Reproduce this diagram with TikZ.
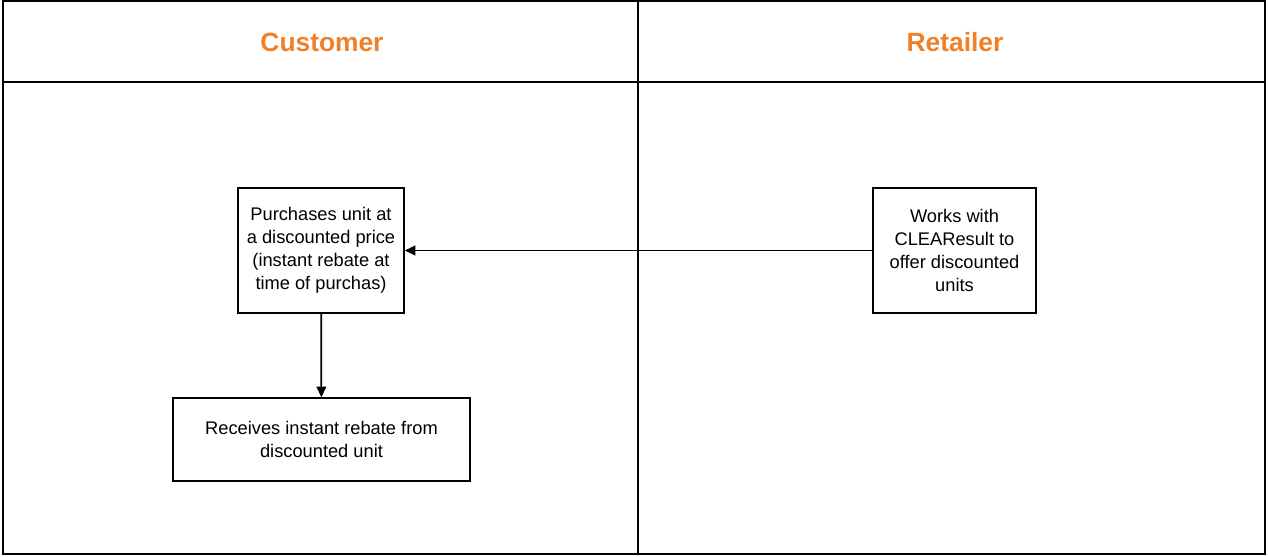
\documentclass[tikz,border=0pt]{standalone}
\usepackage{fontspec}
\setmainfont{Liberation Sans}
\usetikzlibrary{arrows.meta}
\definecolor{laneorange}{RGB}{240,128,40}
\begin{document}
\begin{tikzpicture}[
x=0.02cm,y=-0.02cm,
lane/.style={draw,line width=1.1pt},
head/.style={font=\fontsize{15}{18}\selectfont\bfseries,text=laneorange},
task/.style={draw,line width=0.9pt,align=center,inner sep=2pt,
  font=\fontsize{10.4}{13}\selectfont},
flow/.style={line width=1pt,-{Triangle[length=6pt,width=5.5pt]}},
]
\useasboundingbox (0,0) rectangle (1268,556);
\path[lane]
    (3,1) rectangle (1265,554)
    (3,82) -- (1265,82)
    (638,1) -- (638,554);
\node[head] (customer) at (322,42) {Customer};
\node[head] (retailer) at (955,42) {Retailer};
\node[task,minimum width=166*0.02cm,minimum height=125*0.02cm] (purchase) at (321,250.5)
    {Purchases unit at\\a discounted price\\(instant rebate at\\time of purchas)};
\node[task,minimum width=297*0.02cm,minimum height=83*0.02cm] (receive) at (321.5,439.5)
    {Receives instant rebate from\\discounted unit};
\node[task,minimum width=163*0.02cm,minimum height=125*0.02cm] (works) at (954.5,250.5)
    {Works with\\CLEAResult to\\offer discounted\\units};
\draw[flow] (works) -- (purchase);
\draw[flow] (purchase) -- (receive);
\end{tikzpicture}
\end{document}
